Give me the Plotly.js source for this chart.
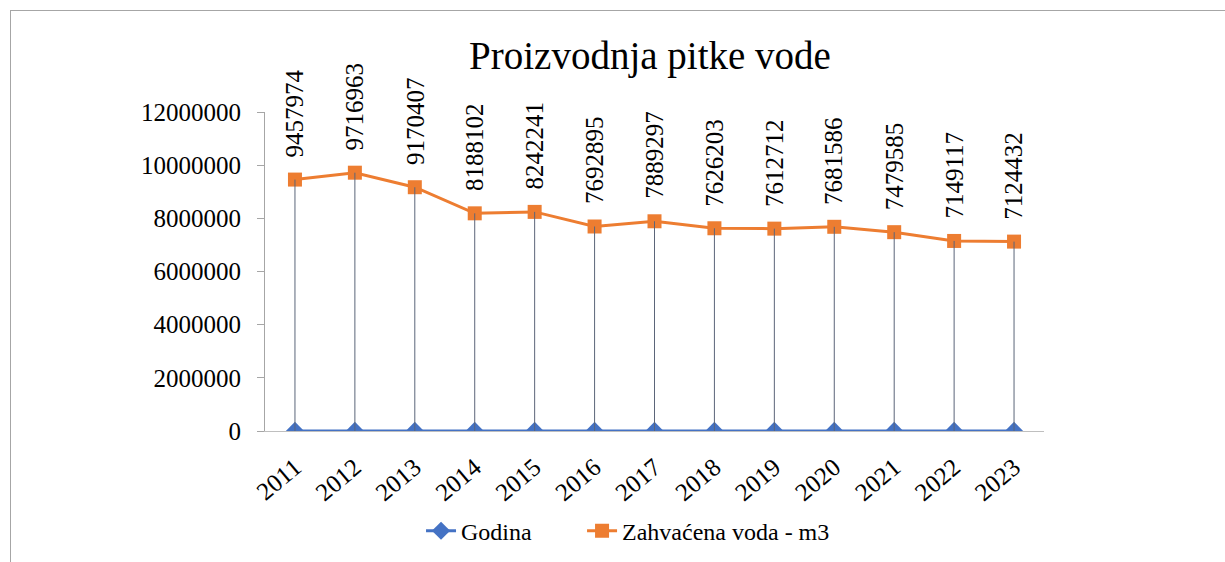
<!DOCTYPE html>
<html>
<head>
<meta charset="utf-8">
<script src="https://cdn.plot.ly/plotly-3.0.1.min.js"></script>
<style>
  html, body { margin: 0; padding: 0; background: #ffffff; overflow: hidden; }
  #wrap { position: relative; width: 1225px; height: 562px; }
  #chart { width: 1225px; height: 562px; }
  #frame { position: absolute; left: 10px; top: 10px; width: 1400px; height: 700px;
           border-left: 1px solid #a6a6a6; border-top: 1px solid #a6a6a6; pointer-events: none; }
</style>
</head>
<body>
<div id="wrap">
  <div id="chart"></div>
  <div id="frame"></div>
</div>
<script>
const years = ["2011","2012","2013","2014","2015","2016","2017","2018","2019","2020","2021","2022","2023"];
const godina = [2011,2012,2013,2014,2015,2016,2017,2018,2019,2020,2021,2022,2023];
const zahvacenaVoda = [9457974,9716963,9170407,8188102,8242241,7692895,7889297,7626203,7612712,7681586,7479585,7149117,7124432];
const seriesNames = ["Godina", "Zahvaćena voda - m3"];
const chartTitle = "Proizvodnja pitke vode";

const FONT = "Liberation Serif, Times New Roman, serif";

// drop lines from each orange point down to the category axis
const dropX = [], dropY = [];
years.forEach((c, i) => { dropX.push(c, c, null); dropY.push(zahvacenaVoda[i], 0, null); });

const traces = [
  {
    x: years, y: godina, name: seriesNames[0], type: 'scatter', mode: 'lines+markers',
    line: { color: '#4472C4', width: 3 },
    marker: { symbol: 'diamond', size: 14, color: '#4472C4' },
    legend: 'legend'
  },
  {
    x: years, y: zahvacenaVoda, name: seriesNames[1], type: 'scatter', mode: 'lines+markers',
    line: { color: '#ED7D31', width: 3 },
    marker: { symbol: 'square', size: 14, color: '#ED7D31' },
    legend: 'legend2'
  },
  {
    x: dropX, y: dropY, type: 'scatter', mode: 'lines', showlegend: false,
    line: { color: '#5b6579', width: 1 }
  }
];

const annotations = years.map((c, i) => ({
  x: i, y: zahvacenaVoda[i], xref: 'x', yref: 'y',
  text: String(zahvacenaVoda[i]), showarrow: false, textangle: -90,
  xanchor: 'center', yanchor: 'bottom', yshift: 20,
  font: { family: FONT, size: 25, color: '#000000' }
}));

const legendFont = { family: FONT, size: 24, color: '#000000' };

const layout = {
  width: 1225, height: 562,
  margin: { l: 265, r: 181, t: 112, b: 131, pad: 0, autoexpand: false },
  paper_bgcolor: '#ffffff', plot_bgcolor: '#ffffff',
  font: { family: FONT, size: 24, color: '#000000' },
  title: {
    text: chartTitle, font: { family: FONT, size: 39, color: '#000000' },
    xref: 'container', x: 0.5306, xanchor: 'center',
    yref: 'container', y: 0.901, yanchor: 'middle'
  },
  xaxis: {
    type: 'category', range: [-0.5, 12.5], showgrid: false, zeroline: false,
    showline: true, linecolor: '#bfbfbf', linewidth: 1, ticks: '',
    tickangle: -40, ticklabelstandoff: 11,
    tickfont: { family: FONT, size: 25, color: '#000000' }
  },
  yaxis: {
    range: [0, 12000000], dtick: 2000000, tickformat: 'd', showgrid: false, zeroline: false,
    showline: true, linecolor: '#a6a6a6', linewidth: 1, ticks: 'outside', ticklen: 7,
    tickcolor: '#a6a6a6', ticklabelstandoff: 11,
    tickfont: { family: FONT, size: 25, color: '#000000' }
  },
  showlegend: true,
  legend: {
    orientation: 'h', x: 0.2003, xanchor: 'left', y: -0.314, yanchor: 'middle',
    font: legendFont, bgcolor: 'rgba(0,0,0,0)'
  },
  legend2: {
    orientation: 'h', x: 0.407, xanchor: 'left', y: -0.314, yanchor: 'middle',
    font: legendFont, bgcolor: 'rgba(0,0,0,0)'
  },
  annotations: annotations
};

Plotly.newPlot('chart', traces, layout, { displayModeBar: false, staticPlot: true });
</script>
</body>
</html>
